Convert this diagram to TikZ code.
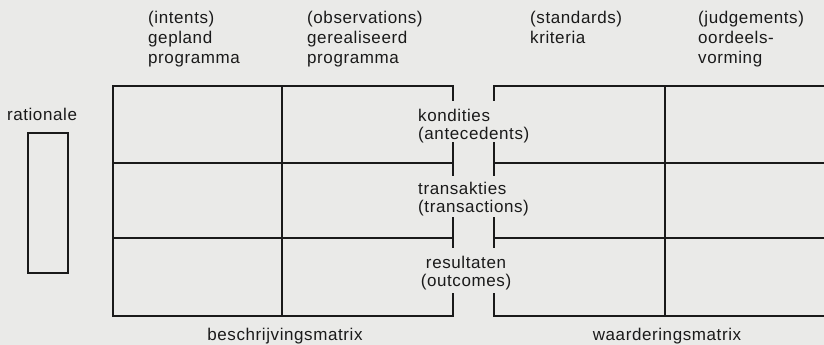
\documentclass[tikz,border=0pt]{standalone}
\usepackage{fontspec}
\setmainfont{Liberation Sans}[LetterSpace=3.5]
\definecolor{paper}{HTML}{EAEAE8}
\definecolor{ink}{HTML}{1A1A1A}
\begin{document}
\begin{tikzpicture}[x=1pt,y=-1pt,
  rule/.style={draw=ink,line width=1.4pt,line cap=rect},
  lbl/.style={text=ink,inner sep=0pt,font=\fontsize{17}{20}\selectfont},
  head/.style={lbl,align=left,anchor=north west},
  mid/.style={lbl,align=left,anchor=north west,font=\fontsize{17}{18.5}\selectfont}]
\fill[paper] (0,0) rectangle (824,345);
\useasboundingbox (0,0) rectangle (824,345);
% header labels
\node[head] (intents) at (148,10.6) {(intents)\\gepland\\programma};
\node[head] (observ) at (307,10.6) {(observations)\\gerealiseerd\\programma};
\node[head] (standards) at (530,10.6) {(standards)\\kriteria};
\node[head] (judgem) at (698,10.6) {(judgements)\\oordeels-\\vorming};
% rationale
\node[lbl,anchor=base] (ratlbl) at (42,120) {rationale};
\node[rule,minimum width=40pt,minimum height=140pt,inner sep=0pt] (ratbox) at (48,203) {};
% row labels
\node[mid] (kond) at (418,108.8) {kondities\\(antecedents)};
\node[mid] (trans) at (418,181.8) {transakties\\(transactions)};
\node[mid,align=center,anchor=north] (result) at (466,255.8) {resultaten\\(outcomes)};
% bottom labels
\node[lbl,anchor=base] (beschr) at (285,340) {beschrijvingsmatrix};
\node[lbl,anchor=base] (waard) at (667,340) {waarderingsmatrix};
% description matrix
\coordinate (LTL) at (113,86);
\coordinate (LBL) at (113,316);
\draw[rule] (453,100) -- (453,86) -- (LTL) -- (LBL) -- (453,316) -- (453,294);
\draw[rule] (113,163) -- (453,163);
\draw[rule] (113,238) -- (453,238);
\draw[rule] (282,86) -- (282,316);
\draw[rule] (453,143) -- (453,175);
\draw[rule] (453,218) -- (453,247);
% judgement matrix
\draw[rule] (494,100) -- (494,86) -- (830,86);
\draw[rule] (494,294) -- (494,316) -- (830,316);
\draw[rule] (494,163) -- (830,163);
\draw[rule] (494,238) -- (830,238);
\draw[rule] (665,86) -- (665,316);
\draw[rule] (494,143) -- (494,175);
\draw[rule] (494,218) -- (494,247);
\end{tikzpicture}
\end{document}
